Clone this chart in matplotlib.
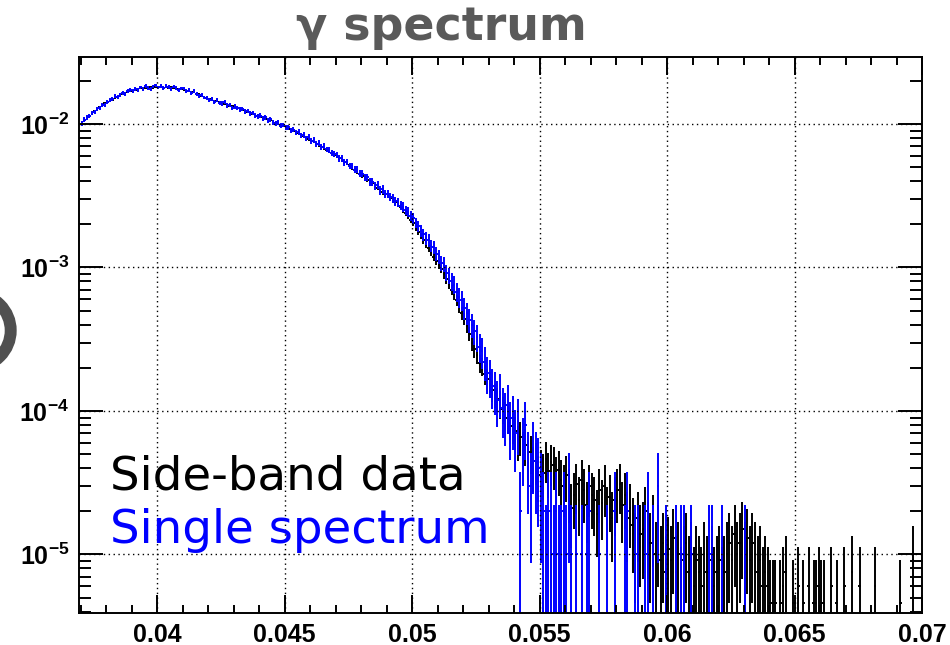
import numpy as np
import matplotlib
matplotlib.use("Agg")
import matplotlib.pyplot as plt
from matplotlib.patches import Ellipse
from matplotlib.ticker import FixedLocator, LogLocator, NullFormatter

plt.rcParams['mathtext.fontset'] = 'custom'
plt.rcParams['mathtext.bf'] = 'Liberation Sans:bold'
plt.rcParams['mathtext.rm'] = 'Liberation Sans'

# --- histogram binning ---
X_FIRST = 0.0370      # low edge of first bin
BIN_W = 0.0001
UNIT = 1e-6           # bin contents below are in units of 1e-6
W_SIDE = 4.6          # weight of one side-band entry (same units)
W_SINGLE = 15.0       # weight of one single-spectrum entry

side_band = [
    10250, 10700, 11050, 11300, 11800, 12350, 12600, 13100, 13400, 13900,
    14200, 14650, 14800, 15300, 15500, 15900, 16100, 16500, 16600, 16950,
    17000, 17350, 17200, 17700, 17600, 17900, 17750, 18150, 17950, 18200,
    18050, 18300, 17900, 18150, 17850, 18000, 17700, 17900, 17500, 17550,
    17300, 17100, 17250, 16800, 16600, 16250, 16100, 15700, 15500, 15150,
    14900, 14750, 14500, 14400, 14150, 14050, 13800, 13700, 13400, 13300,
    13150, 12900, 12800, 12550, 12400, 12150, 12000, 11750, 11550, 11450,
    11250, 11100, 10850, 10700, 10600, 10400, 10200, 10050, 9800, 9700,
    9500, 9300, 9150, 8950, 8800, 8600, 8450, 8200, 8050, 7850,
    7650, 7500, 7300, 7150, 6950, 6800, 6600, 6450, 6250, 6100,
    5950, 5800, 5600, 5450, 5300, 5150, 4950, 4800, 4650, 4500,
    4350, 4250, 4100, 3950, 3850, 3700, 3600, 3450, 3350, 3250,
    3150, 3050, 2950, 2850, 2750, 2650, 2520, 2400, 2280, 2150,
    2030, 1900, 1780, 1660, 1550, 1440, 1360, 1270, 1190, 1110,
    1040, 980, 900, 830, 770, 700, 650, 590, 530, 480,
    440, 390, 345, 300, 270, 245, 215, 205, 180, 168,
    160, 140, 130, 122, 110, 103, 95, 90, 82, 78,
    72, 62, 66, 55, 58, 48, 52, 41, 45, 36,
    40, 37, 46, 38, 44, 42, 35, 39, 33, 30,
    36, 28, 21, 26, 31, 24, 33, 28, 22, 30,
    26, 24, 19, 28, 23, 30, 20, 25, 18, 24,
    28, 31, 22, 26, 18, 21, 16, 12, 18, 14,
    15, 20, 15, 12, 17, 10, 14, 9.2, 12, 7.6,
    11, 9.2, 13, 7.6, 10, 6, 9.2, 12, 7.6, 10,
    6, 9.2, 7.6, 6, 10, 7.6, 4.6, 9.2, 6, 7.6,
    9.2, 6, 7.6, 10, 12, 9.2, 14, 10, 12, 15,
    10, 13, 9.2, 12, 10, 7.6, 9.2, 6, 7.6, 6,
    4.6, 4.6, 4.6, 0, 4.6, 6, 7.6, 0, 0, 4.6,
    0, 6, 0, 4.6, 0, 6, 0, 4.6, 4.6, 6,
    4.6, 4.6, 0, 0, 6, 0, 4.6, 0, 0, 6,
    0, 0, 7.6, 0, 0, 6, 0, 0, 0, 0,
    0, 6, 0, 0, 0, 0, 0, 0, 0, 0,
    0, 4.6, 0, 0, 0, 0, 9.2, 0, 0, 0,
]

single = [
    10150, 10700, 11100, 11350, 11900, 12150, 12700, 12900, 13600, 13500,
    14300, 14600, 15000, 15600, 15350, 15900, 16450, 16200, 16950, 17300,
    16900, 17600, 17350, 18000, 17500, 18400, 17800, 17500, 18300, 18600,
    18000, 18350, 17800, 18450, 18100, 17600, 18200, 17900, 17350, 17700,
    17650, 17000, 17350, 16500, 16950, 16200, 15700, 16000, 15300, 15250,
    14800, 14950, 14300, 14600, 14050, 13900, 14150, 13450, 13600, 12950,
    13250, 12900, 12600, 12750, 12200, 12350, 11800, 11900, 11500, 11300,
    11450, 10900, 11100, 10550, 10800, 10300, 10150, 10250, 9700, 9850,
    9400, 9500, 9000, 9150, 8700, 8800, 8350, 8400, 7950, 8100,
    7600, 7750, 7250, 7400, 6950, 7000, 6650, 6550, 6300, 6150,
    6100, 5750, 5750, 5400, 5450, 5100, 5100, 4800, 4800, 4500,
    4500, 4250, 4250, 3950, 3950, 3700, 3750, 3450, 3500, 3250,
    3250, 3100, 3050, 2900, 2850, 2700, 2650, 2500, 2450, 2300,
    2200, 2050, 1950, 1800, 1700, 1600, 1550, 1420, 1380, 1250,
    1200, 1080, 1050, 920, 880, 800, 760, 680, 620, 590,
    520, 480, 430, 400, 360, 330, 280, 260, 220, 185,
    175, 150, 140, 120, 135, 105, 95, 110, 80, 90,
    70, 85, 20, 60, 80, 45, 30, 55, 45, 40,
    30, 20, 10, 20, 20, 10, 20, 10, 10, 20,
    10, 30, 10, 0, 10, 0, 10, 0, 10, 20,
    0, 0, 0, 10, 0, 0, 10, 0, 0, 20,
    0, 0, 0, 10, 20, 0, 0, 10, 10, 0,
    0, 10, 20, 0, 10, 0, 30, 0, 0, 10,
    0, 0, 0, 10, 0, 10, 10, 0, 0, 10,
    0, 0, 0, 0, 0, 0, 10, 10, 0, 0,
    0, 10, 0, 0, 0, 0, 0, 0, 0, 0,
    10,
]

x_major = [0.04, 0.045, 0.05, 0.055, 0.06, 0.065, 0.07]
x_labels = ["0.04", "0.045", "0.05", "0.055", "0.06", "0.065", "0.07"]
y_major = [1e-5, 1e-4, 1e-3, 1e-2]
y_labels = [r"$\mathbf{10^{-5}}$", r"$\mathbf{10^{-4}}$",
            r"$\mathbf{10^{-3}}$", r"$\mathbf{10^{-2}}$"]


def draw_hist(ax, vals, weight, color):
    v = np.array(vals, dtype=float)
    x = X_FIRST + BIN_W * (np.arange(len(v)) + 0.5)
    ok = v > 0
    x, v = x[ok], v[ok]
    err = np.sqrt(v * weight)
    lo = np.minimum(err, v - 0.3)  # keep the lower end positive on log axis
    ax.errorbar(x, v * UNIT, xerr=BIN_W / 2, yerr=[lo * UNIT, err * UNIT],
                fmt='none', ecolor=color, elinewidth=1.4, capsize=0)


fig = plt.figure(figsize=(9.5, 6.45), dpi=100)
ax = fig.add_axes([79 / 950, 1 - 613 / 645, (922 - 79) / 950, (613 - 57) / 645])
ax.set_yscale('log')

draw_hist(ax, side_band, W_SIDE, 'black')
draw_hist(ax, single, W_SINGLE, '#0000ff')

ax.set_xlim(0.03694, 0.07)
ax.set_ylim(3.91e-6, 2.93e-2)

ax.xaxis.set_major_locator(FixedLocator(x_major))
ax.xaxis.set_minor_locator(FixedLocator(np.arange(0.037, 0.0695, 0.001)))
ax.set_xticklabels(x_labels, fontfamily='Liberation Sans', fontweight='bold', fontsize=18)
ax.yaxis.set_major_locator(FixedLocator(y_major))
ax.yaxis.set_minor_locator(LogLocator(base=10, subs=range(2, 10)))
ax.yaxis.set_minor_formatter(NullFormatter())
ax.set_yticklabels(y_labels, fontsize=18)

ax.tick_params(which='both', direction='in', top=True, right=True, width=1.4, color='black')
ax.tick_params(axis='x', which='major', length=13, pad=7)
ax.tick_params(axis='x', which='minor', length=6)
ax.tick_params(axis='y', which='major', length=17.5, pad=7)
ax.tick_params(axis='y', which='minor', length=8.6)
for s in ax.spines.values():
    s.set_linewidth(1.4)

ax.grid(which='major', linestyle=(0, (1, 2.5)), color='black', linewidth=1.0)
ax.set_axisbelow(False)

fig.text(441 / 950, 1 - 27 / 645, "\u03b3 spectrum", ha='center', va='center',
         fontsize=33, fontweight='bold', color='#5a5a5a', family='DejaVu Sans')

fig.text(110 / 950, 1 - 490 / 645, "Side-band data", fontsize=33.6,
         color='black', family='DejaVu Sans', va='baseline')
fig.text(110 / 950, 1 - 543 / 645, "Single spectrum", fontsize=33.6,
         color='#0000ff', family='DejaVu Sans', va='baseline')

# partly visible ring at the left margin
ring = Ellipse((-25.8 / 950, 1 - 330.5 / 645), width=73 / 950, height=73 / 645,
               fill=False, linewidth=8.6, edgecolor='#505050',
               transform=fig.transFigure, clip_on=False)
fig.add_artist(ring)

fig.savefig("out.png", dpi=100)
